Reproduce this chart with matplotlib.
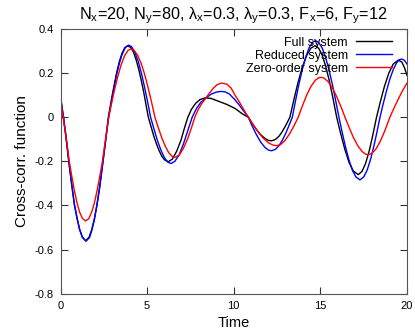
import matplotlib
matplotlib.use("Agg")
import matplotlib.pyplot as plt

plt.rcParams['font.family'] = ['Liberation Sans', 'DejaVu Sans']
plt.rcParams['mathtext.fontset'] = 'custom'
plt.rcParams['mathtext.rm'] = 'Liberation Sans'
plt.rcParams['mathtext.it'] = 'Liberation Sans'

# Full system
t_full = [0, 0.16, 0.3, 0.5, 0.65, 0.8, 0.95, 1.1, 1.25, 1.45, 1.65, 1.8, 1.95, 2.1,
          2.25, 2.4, 2.6, 2.76, 2.95, 3.1, 3.25, 3.4, 3.55, 3.7, 3.88, 4.05, 4.2,
          4.35, 4.5, 4.65, 4.8, 4.95, 5.07, 5.25, 5.4, 5.55, 5.7, 5.85, 6.0, 6.22,
          6.45, 6.7, 6.95, 7.15, 7.35, 7.55, 7.8, 8.05, 8.35, 8.7, 9.2,
          9.6, 10.07, 10.5, 10.84, 11.05, 11.3, 11.55, 11.8, 12.0,
          12.18, 12.4, 12.6, 12.8, 13.0, 13.24, 13.45, 13.7, 13.95, 14.2, 14.45,
          14.69, 14.9, 15.1, 15.3, 15.5, 15.7, 15.94, 16.15, 16.4, 16.65, 16.9,
          17.18, 17.4, 17.6, 17.8, 18.0, 18.24, 18.45, 18.7, 18.95, 19.2, 19.5,
          19.7, 19.85, 20]
v_full = [0.093, 0.0, -0.083, -0.214, -0.307, -0.395, -0.456, -0.508, -0.543, -0.56,
          -0.544, -0.51, -0.462, -0.398, -0.321, -0.23, -0.107, 0.0, 0.085, 0.147,
          0.206, 0.253, 0.29, 0.314, 0.324, 0.316, 0.297, 0.264, 0.222, 0.171, 0.115,
          0.05, 0.0, -0.049, -0.09, -0.123, -0.153, -0.177, -0.193, -0.202,
          -0.19, -0.155, -0.105, -0.05, 0.0, 0.035, 0.063, 0.08, 0.088,
          0.085, 0.07, 0.058, 0.04, 0.015, 0.0, -0.026, -0.055,
          -0.079, -0.096, -0.105, -0.107, -0.101, -0.087, -0.065, -0.037, 0.0, 0.073,
          0.155, 0.225, 0.279, 0.313, 0.324, 0.313, 0.282, 0.233, 0.17, 0.096, 0.0,
          -0.068, -0.143, -0.204, -0.244, -0.26, -0.246, -0.211, -0.158, -0.09, 0.0,
          0.067, 0.141, 0.2, 0.241, 0.259, 0.25, 0.225, 0.19]

# Reduced system
t_red = [0, 0.18, 0.3, 0.5, 0.65, 0.8, 0.95, 1.1, 1.27, 1.47, 1.67, 1.8, 1.95, 2.1,
         2.25, 2.4, 2.6, 2.78, 2.95, 3.1, 3.25, 3.4, 3.55, 3.75, 3.93, 4.1, 4.3, 4.5,
         4.7, 4.9, 5.05, 5.2, 5.4, 5.6, 5.8, 6.0, 6.2, 6.38, 6.6, 6.85, 7.1, 7.35,
         7.6, 7.85, 8.1, 8.4, 8.7, 9.0, 9.25, 9.5, 9.75, 10.07,
         10.3, 10.55, 10.84, 11.05, 11.3, 11.55, 11.8, 12.0, 12.18, 12.4, 12.6, 12.8,
         13.0, 13.2, 13.38, 13.55, 13.75, 13.95, 14.15, 14.35, 14.55, 14.72, 14.9,
         15.1, 15.3, 15.5, 15.7, 15.9, 16.07, 16.25, 16.45, 16.65, 16.85, 17.05,
         17.28, 17.5, 17.7, 17.9, 18.1, 18.28, 18.44, 18.6, 18.8, 19.0, 19.2, 19.4,
         19.55, 19.69, 19.85, 20]
v_red = [0.093, 0.0, -0.075, -0.214, -0.307, -0.395, -0.456, -0.508, -0.545, -0.562,
         -0.546, -0.515, -0.467, -0.40, -0.325, -0.235, -0.11, 0.0, 0.075, 0.138,
         0.196, 0.245, 0.284, 0.317, 0.327, 0.32, 0.293, 0.249, 0.19, 0.118, 0.061,
         0.0, -0.055, -0.107, -0.15, -0.184, -0.204, -0.21, -0.2, -0.17, -0.12,
         -0.06, 0.0, 0.04, 0.068, 0.088, 0.105, 0.114, 0.117,
         0.115, 0.105, 0.079, 0.057, 0.03, 0.0, -0.038, -0.078, -0.112, -0.137,
         -0.149, -0.152, -0.146, -0.13, -0.105, -0.073, -0.035, 0.0, 0.069, 0.146,
         0.215, 0.272, 0.315, 0.34, 0.347, 0.339, 0.314, 0.271, 0.214, 0.145, 0.068,
         0.0, -0.066, -0.135, -0.194, -0.241, -0.271, -0.284, -0.271, -0.239, -0.19,
         -0.126, -0.061, 0.0, 0.053, 0.115, 0.171, 0.215, 0.247, 0.26, 0.264, 0.258,
         0.241]

# Zero-order system
t_zero = [0, 0.15, 0.3, 0.5, 0.65, 0.8, 0.95, 1.1, 1.27, 1.45, 1.63, 1.8, 1.95, 2.1,
          2.25, 2.4, 2.6, 2.78, 2.95, 3.1, 3.3, 3.5, 3.7, 3.9, 4.07, 4.25, 4.45, 4.65,
          4.85, 5.05, 5.25, 5.45, 5.65, 5.85, 6.05, 6.25, 6.45, 6.61, 6.85, 7.1, 7.35,
          7.55, 7.75, 7.95, 8.15, 8.4, 8.6, 8.8, 9.05, 9.3, 9.6, 9.85, 10.07, 10.3,
          10.55, 10.84, 11.1, 11.4, 11.7, 12.0, 12.25, 12.47, 12.7, 12.95, 13.2,
          13.45, 13.72, 13.95, 14.2, 14.45, 14.7, 14.9, 15.03, 15.2, 15.45, 15.7,
          15.95, 16.2, 16.42, 16.65, 16.9, 17.15, 17.4, 17.6, 17.76, 17.95, 18.2,
          18.45, 18.7, 19.01, 19.25, 19.5, 19.75, 20]
v_zero = [0.085, 0.0, -0.075, -0.197, -0.267, -0.332, -0.387, -0.43, -0.459, -0.47,
          -0.46, -0.43, -0.39, -0.337, -0.275, -0.21, -0.099, 0.0, 0.064, 0.118,
          0.183, 0.238, 0.279, 0.303, 0.31, 0.303, 0.281, 0.245, 0.196, 0.136, 0.07,
          0.0, -0.049, -0.094, -0.132, -0.161, -0.178, -0.182, -0.172, -0.14, -0.095,
          -0.05, 0.0, 0.035, 0.062, 0.088, 0.11, 0.13, 0.148, 0.155, 0.15,
          0.132, 0.1, 0.072, 0.038, 0.0, -0.032, -0.066, -0.095, -0.116, -0.126,
          -0.129, -0.124, -0.106, -0.078, -0.043, 0.0, 0.049, 0.099, 0.139, 0.167,
          0.179, 0.181, 0.178, 0.161, 0.132, 0.092, 0.045, 0.0, -0.045, -0.091,
          -0.128, -0.155, -0.167, -0.17, -0.165, -0.145, -0.11, -0.065, 0.0, 0.042,
          0.083, 0.122, 0.155]

fig = plt.figure(figsize=(4.15, 3.31), dpi=100)
ax = fig.add_axes([0.1458, 0.1127, 0.835, 0.7997])

ax.plot(t_full, v_full, color='black', lw=1.0, label='Full system')
ax.plot(t_red, v_red, color='#0000ff', lw=1.0, label='Reduced system')
ax.plot(t_zero, v_zero, color='#ff0000', lw=1.0, label='Zero-order system')

ax.set_xlim(0, 20)
ax.set_ylim(-0.8, 0.4)
ax.set_xticks([0, 5, 10, 15, 20])
ax.set_yticks([-0.8, -0.6, -0.4, -0.2, 0, 0.2, 0.4])
ax.set_yticklabels(['-0.8', '-0.6', '-0.4', '-0.2', '0', '0.2', '0.4'])
ax.tick_params(direction='in', top=True, right=True, length=5, width=0.8,
               labelsize=8, colors='#333333', labelcolor='black', pad=5)
for s in ax.spines.values():
    s.set_color('#555555')
    s.set_linewidth(0.8)

ax.set_xlabel('Time', fontsize=10.5)
ax.set_ylabel('Cross-corr. function', fontsize=11)
ax.set_title(r'N$_\mathregular{x}$=20, N$_\mathregular{y}$=80, $\lambda_\mathregular{x}$=0.3, '
             r'$\lambda_\mathregular{y}$=0.3, F$_\mathregular{x}$=6, F$_\mathregular{y}$=12',
             fontsize=11.7, pad=7)

ax.legend(loc='upper right', bbox_to_anchor=(0.971, 0.99), frameon=False,
          markerfirst=False, fontsize=9, handlelength=2.9, labelspacing=0.08,
          borderaxespad=0, handletextpad=0.64)

fig.savefig('out.png', dpi=100)
